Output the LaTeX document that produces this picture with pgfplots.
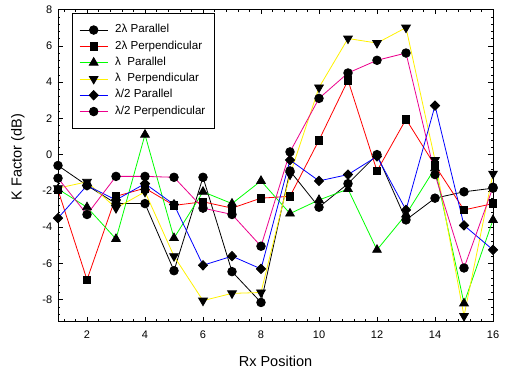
\documentclass[border=0pt]{standalone}
\usepackage{fontspec}
\setmainfont{Liberation Sans}
\usepackage{pgfplots}
\pgfplotsset{compat=1.18}
\begin{document}
\begin{tikzpicture}
\begin{axis}[
  at={(0pt,0pt)}, anchor=south west,
  scale only axis, width=435pt, height=312pt,
  xmin=1, xmax=16, ymin=-9.2, ymax=8,
  xtick={2,4,...,16}, ytick={-8,-6,...,8},
  minor xtick={1.2,1.6,...,15.8}, minor ytick={-8.8,-8.4,...,7.6},
  tick align=inside, major tick length=5pt, minor tick length=2.5pt,
  tick style={black, line width=0.5pt},
  axis line style={line width=0.8pt},
  /pgf/number format/assume math mode=true,
  ticklabel style={font=\fontsize{11}{13}\selectfont},
  xticklabel style={yshift=-5.8pt},
  yticklabel style={xshift=-2.3pt},
  xlabel={Rx Position}, ylabel={K Factor (dB)},
  label style={font=\fontsize{14.5}{16}\selectfont},
  xlabel style={at={(axis description cs:0.5,-0.128)}, anchor=center},
  ylabel style={at={(axis description cs:-0.092,0.527)}, anchor=center},
  legend style={at={(axis description cs:0.0322,0.9888)}, anchor=north west,
    font=\fontsize{11.6}{13}\selectfont, draw=black, line width=0.6pt,
    inner xsep=7pt, inner ysep=8.6pt, row sep=0pt,
    nodes={inner xsep=2pt, inner ysep=2.9pt, text height=8pt, text depth=2.5pt},
    cells={anchor=west},
    /tikz/every odd column/.append style={column sep=5pt}},
  legend image code/.code={\draw[mark repeat=2,mark phase=2] plot coordinates {(0pt,0pt)(14pt,0pt)(28pt,0pt)};},
  every axis plot/.append style={line width=0.8pt},
]
\addplot[black, mark=*, mark size=4.3pt, mark options={fill=black,draw=black}] coordinates {
(1,-0.6)(2,-1.7)(3,-2.7)(4,-2.7)(5,-6.4)(6,-1.25)(7,-6.45)(8,-8.15)(9,-0.9)(10,-2.9)(11,-1.6)(12,0.0)(13,-3.6)(14,-2.4)(15,-2.05)(16,-1.85)};
\addlegendentry{2λ Parallel}
\addplot[red, mark=square*, mark size=3.8pt, mark options={fill=black,draw=black}] coordinates {
(1,-1.95)(2,-6.9)(3,-2.3)(4,-1.85)(5,-2.8)(6,-2.6)(7,-2.95)(8,-2.4)(9,-2.3)(10,0.8)(11,4.1)(12,-0.9)(13,1.95)(14,-0.6)(15,-3.05)(16,-2.7)};
\addlegendentry{2λ Perpendicular}
\addplot[green, mark=triangle*, mark size=5pt, mark options={fill=black,draw=black}] coordinates {
(1,-1.9)(2,-2.9)(3,-4.65)(4,1.1)(5,-4.6)(6,-2.05)(7,-2.7)(8,-1.45)(9,-3.25)(10,-2.5)(11,-1.9)(12,-5.25)(13,-3.3)(14,-0.75)(15,-8.2)(16,-3.6)};
\addlegendentry{λ\ \ Parallel}
\addplot[yellow, mark=triangle*, mark size=5pt, mark options={fill=black,draw=black,rotate=180}] coordinates {
(1,-1.85)(2,-1.5)(3,-2.95)(4,-2.05)(5,-5.6)(6,-8.05)(7,-7.65)(8,-7.6)(9,-1.1)(10,3.7)(11,6.4)(12,6.15)(13,7.0)(14,-0.3)(15,-8.9)(16,-1.05)};
\addlegendentry{λ\ \ Perpendicular}
\addplot[blue, mark=diamond*, mark size=4.7pt, mark options={fill=black,draw=black,xscale=1.3}] coordinates {
(1,-3.5)(2,-1.7)(3,-2.5)(4,-1.6)(5,-2.75)(6,-6.1)(7,-5.6)(8,-6.3)(9,-0.3)(10,-1.45)(11,-1.1)(12,-0.1)(13,-3.05)(14,2.7)(15,-3.9)(16,-5.25)};
\addlegendentry{λ/2 Parallel}
\addplot[magenta, mark=*, mark size=4.3pt, mark options={fill=black,draw=black}] coordinates {
(1,-1.3)(2,-3.3)(3,-1.2)(4,-1.2)(5,-1.25)(6,-2.95)(7,-3.3)(8,-5.05)(9,0.15)(10,3.1)(11,4.5)(12,5.2)(13,5.6)(14,-1.1)(15,-6.25)(16,-1.8)};
\addlegendentry{λ/2 Perpendicular}
\end{axis}
\pgfresetboundingbox
\path (-58pt,-50.5pt) rectangle (447pt,321.5pt);
\end{tikzpicture}
\end{document}
